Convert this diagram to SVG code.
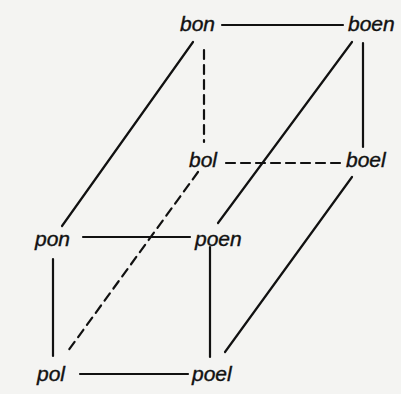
<svg xmlns="http://www.w3.org/2000/svg" width="401" height="394" viewBox="0 0 401 394">
<style>
.bg{fill:#f4f4f2}
.lbl{font-family:"Liberation Sans","DejaVu Sans",sans-serif;font-style:italic;font-size:21px;fill:#111;stroke:#111;stroke-width:0.4}
.e{stroke:#111;stroke-width:2.2;fill:none;stroke-linecap:round}
.d{stroke-dasharray:9 6}
</style>
<rect class="bg" width="401" height="394"/>
<g id="connectors">
<line class="e" x1="222" y1="25" x2="343" y2="25"/>
<line class="e" x1="193" y1="42" x2="62" y2="226"/>
<line class="e d" x1="204" y1="50" x2="204" y2="142"/>
<line class="e" x1="363" y1="43" x2="363" y2="147"/>
<line class="e" x1="352" y1="42" x2="218" y2="223"/>
<line class="e d" x1="226" y1="163" x2="345" y2="163"/>
<line class="e d" x1="198" y1="172" x2="68" y2="351"/>
<line class="e" x1="352" y1="177" x2="225" y2="352"/>
<line class="e" x1="83" y1="237" x2="190" y2="237"/>
<line class="e" x1="53" y1="259" x2="53" y2="356"/>
<line class="e" x1="210" y1="247" x2="210" y2="357"/>
<line class="e" x1="80" y1="374" x2="188" y2="374"/>
</g>
<g id="bon"><text class="lbl" x="180" y="31">bon</text></g>
<g id="boen"><text class="lbl" x="348" y="31">boen</text></g>
<g id="bol"><text class="lbl" x="189" y="167">bol</text></g>
<g id="boel"><text class="lbl" x="346" y="167">boel</text></g>
<g id="pon"><text class="lbl" x="35" y="246">pon</text></g>
<g id="poen"><text class="lbl" x="195" y="246">poen</text></g>
<g id="pol"><text class="lbl" x="37" y="381">pol</text></g>
<g id="poel"><text class="lbl" x="192" y="381">poel</text></g>
</svg>
